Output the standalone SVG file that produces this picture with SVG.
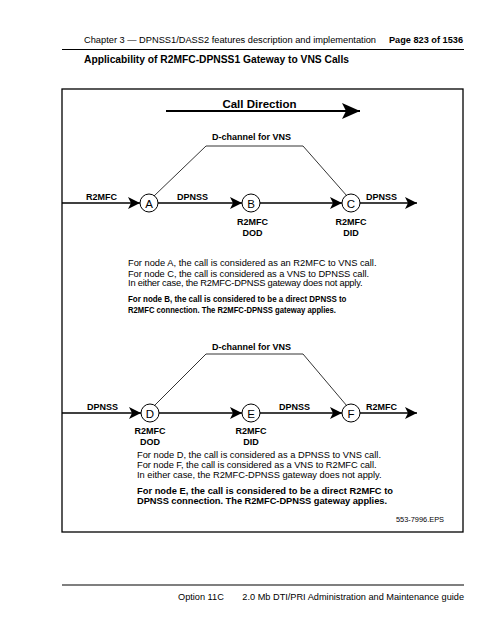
<svg xmlns="http://www.w3.org/2000/svg" width="500" height="631" viewBox="0 0 500 631">
<style>
text{font-family:"Liberation Sans",Arial,sans-serif;fill:#000}
.hdr{font-size:9.6px}
.ftr{font-size:9.2px}
.b{font-weight:bold}
.lbl{font-size:9px;font-weight:bold}
.node circle{fill:#fff;stroke:#000;stroke-width:1}
.node text{font-size:11.5px;text-anchor:middle}
.ln{stroke:#000;stroke-width:1.4;fill:none}
.thin{stroke:#000;stroke-width:0.8;fill:none}
.p{font-size:9.3px}
.pb{font-size:9px;font-weight:bold}
</style>
<defs>
<marker id="ah" markerWidth="12" markerHeight="12" refX="12" refY="6" orient="auto" markerUnits="userSpaceOnUse">
<path d="M0,0 L12,6 L0,12 L3,6 Z" fill="#000"/>
</marker>
<marker id="big" markerWidth="18" markerHeight="16" refX="18" refY="8" orient="auto" markerUnits="userSpaceOnUse">
<path d="M0,0 L18,8 L0,16 L4,8 Z" fill="#000"/>
</marker>
</defs>
<rect width="500" height="631" fill="#fff"/>
<!-- header -->
<text class="hdr" x="84" y="43" textLength="292" lengthAdjust="spacingAndGlyphs">Chapter 3 — DPNSS1/DASS2 features description and implementation</text>
<text class="hdr b" x="389" y="43" textLength="74" lengthAdjust="spacingAndGlyphs">Page 823 of 1536</text>
<line x1="62" y1="49.5" x2="464" y2="49.5" stroke="#000" stroke-width="1.2"/>
<text x="84" y="63" font-size="11" class="b" textLength="265" lengthAdjust="spacingAndGlyphs">Applicability of R2MFC-DPNSS1 Gateway to VNS Calls</text>
<!-- frame -->
<rect x="62" y="89" width="401" height="443" fill="none" stroke="#000" stroke-width="1.3"/>
<!-- Call direction -->
<text x="259.5" y="108" font-size="11.5" class="b" text-anchor="middle">Call Direction</text>
<g id="connectors">
<line x1="166" y1="111" x2="360" y2="111" stroke="#000" stroke-width="2" marker-end="url(#big)"/>
<!-- diagram 1 -->
<polyline class="thin" points="154,196 206,146 303,146 347,196"/>
<line class="ln" x1="62" y1="203" x2="140" y2="203" marker-end="url(#ah)"/>
<line class="ln" x1="158" y1="203" x2="242" y2="203" marker-end="url(#ah)"/>
<line class="ln" x1="260" y1="203" x2="342" y2="203" marker-end="url(#ah)"/>
<line class="ln" x1="360" y1="203" x2="417" y2="203" marker-end="url(#ah)"/>
<!-- diagram 2 -->
<polyline class="thin" points="154,406 206,354 303,354 347,406"/>
<line class="ln" x1="62" y1="413" x2="141" y2="413" marker-end="url(#ah)"/>
<line class="ln" x1="159" y1="413" x2="242" y2="413" marker-end="url(#ah)"/>
<line class="ln" x1="260" y1="413" x2="342" y2="413" marker-end="url(#ah)"/>
<line class="ln" x1="360" y1="413" x2="417" y2="413" marker-end="url(#ah)"/>
</g>
<!-- diagram 1 labels -->
<text class="lbl" x="251.5" y="140" text-anchor="middle">D-channel for VNS</text>
<text class="lbl" x="86" y="200">R2MFC</text>
<text class="lbl" x="192.5" y="200" text-anchor="middle">DPNSS</text>
<text class="lbl" x="366" y="200">DPNSS</text>
<g id="nodeA" class="node"><circle cx="149" cy="203" r="9"/><text x="149" y="207.5">A</text></g>
<g id="nodeB" class="node"><circle cx="251" cy="203" r="9"/><text x="251" y="207.5">B</text></g>
<g id="nodeC" class="node"><circle cx="351" cy="203" r="9"/><text x="351" y="207.5">C</text></g>
<text class="lbl" x="252.5" y="225" text-anchor="middle">R2MFC</text>
<text class="lbl" x="252.5" y="236" text-anchor="middle">DOD</text>
<text class="lbl" x="351" y="225" text-anchor="middle">R2MFC</text>
<text class="lbl" x="351" y="236" text-anchor="middle">DID</text>
<text class="p" x="128" y="266" textLength="248.5">For node A, the call is considered as an R2MFC to VNS call.</text>
<text class="p" x="128" y="277" textLength="241">For node C, the call is considered as a VNS to DPNSS call.</text>
<text class="p" x="128" y="286" textLength="234.5">In either case, the R2MFC-DPNSS gateway does not apply.</text>
<text class="pb" x="128" y="302" textLength="218.5" lengthAdjust="spacingAndGlyphs">For node B, the call is considered to be a direct DPNSS to</text>
<text class="pb" x="128" y="313" textLength="208" lengthAdjust="spacingAndGlyphs">R2MFC connection. The R2MFC-DPNSS gateway applies.</text>
<!-- diagram 2 labels -->
<text class="lbl" x="251.5" y="350" text-anchor="middle">D-channel for VNS</text>
<text class="lbl" x="87" y="410">DPNSS</text>
<text class="lbl" x="294.5" y="410" text-anchor="middle">DPNSS</text>
<text class="lbl" x="366" y="410">R2MFC</text>
<g id="nodeD" class="node"><circle cx="150" cy="413" r="9"/><text x="150" y="417.5">D</text></g>
<g id="nodeE" class="node"><circle cx="251" cy="413" r="9"/><text x="251" y="417.5">E</text></g>
<g id="nodeF" class="node"><circle cx="351" cy="413" r="9"/><text x="351" y="417.5">F</text></g>
<text class="lbl" x="150" y="434" text-anchor="middle">R2MFC</text>
<text class="lbl" x="150" y="445" text-anchor="middle">DOD</text>
<text class="lbl" x="251" y="434" text-anchor="middle">R2MFC</text>
<text class="lbl" x="251" y="445" text-anchor="middle">DID</text>
<text class="p" x="137" y="458" textLength="244">For node D, the call is considered as a DPNSS to VNS call.</text>
<text class="p" x="137" y="468" textLength="239.5">For node F, the call is considered as a VNS to R2MFC call.</text>
<text class="p" x="137" y="478" textLength="244.5">In either case, the R2MFC-DPNSS gateway does not apply.</text>
<text class="p b" x="137" y="494" textLength="256">For node E, the call is considered to be a direct R2MFC to</text>
<text class="p b" x="137" y="504" textLength="250">DPNSS connection. The R2MFC-DPNSS gateway applies.</text>
<text x="444" y="522" font-size="7.4" text-anchor="end">553-7996.EPS</text>
<!-- footer -->
<line x1="62" y1="585" x2="464" y2="585" stroke="#000" stroke-width="1.2"/>
<text class="ftr" x="178" y="600">Option 11C</text>
<text class="ftr" x="464" y="600" text-anchor="end">2.0 Mb DTI/PRI Administration and Maintenance guide</text>
</svg>
